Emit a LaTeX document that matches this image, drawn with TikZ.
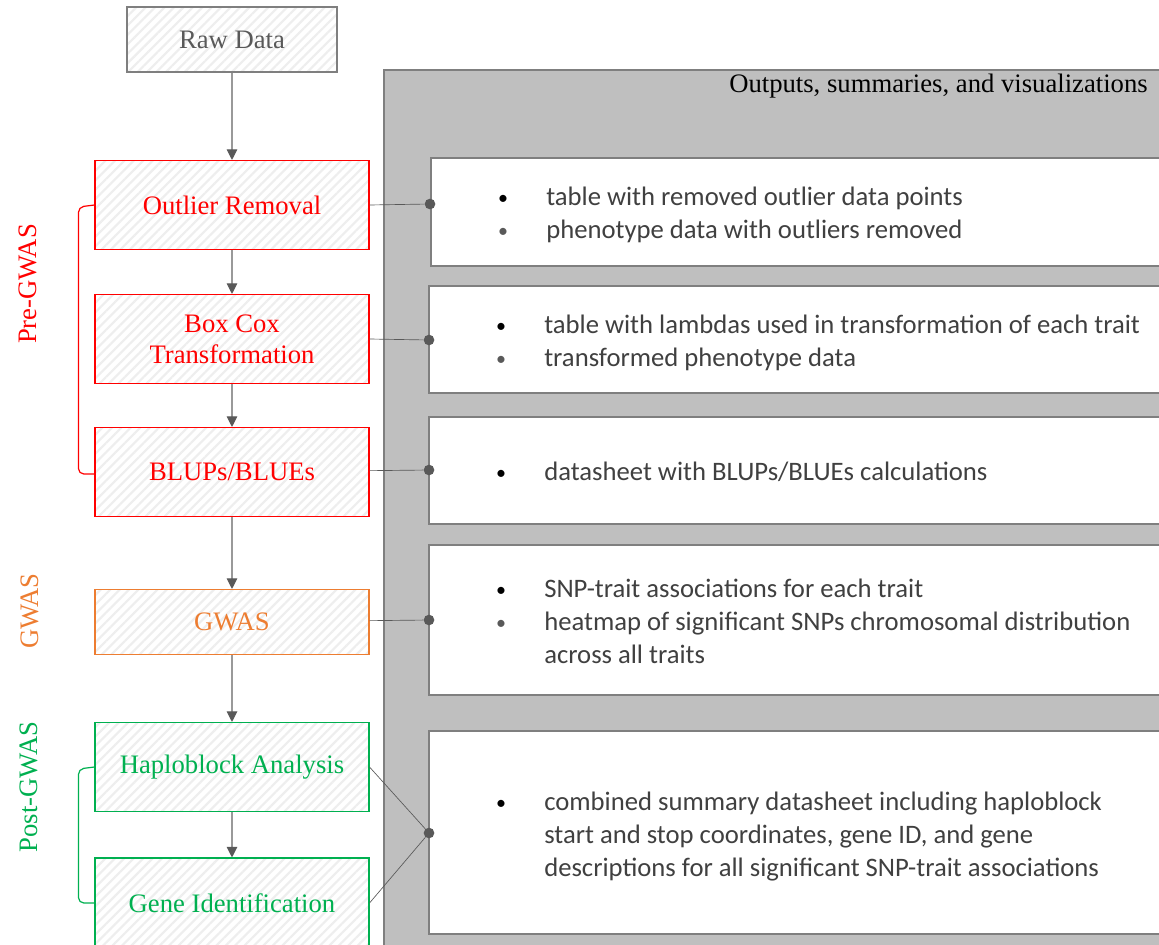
\documentclass[tikz,border=0pt]{standalone}
\usepackage{fontspec}
\setmainfont{Liberation Serif}
\newfontfamily\bodyfont{Carlito}
\usetikzlibrary{arrows.meta,patterns.meta}
\definecolor{stepred}{HTML}{FF0000}
\definecolor{steporange}{HTML}{ED7D31}
\definecolor{stepgreen}{HTML}{00B050}
\definecolor{panelgray}{HTML}{BFBFBF}
\definecolor{edgegray}{HTML}{7F7F7F}
\definecolor{inkgray}{HTML}{595959}
\definecolor{bodyink}{HTML}{404040}
\definecolor{hatchgray}{HTML}{EEEEEE}
\tikzset{
  hatched/.style={preaction={draw=none, fill=white},
    preaction={draw=none, pattern={Lines[angle=45,distance=5pt,line width=1.6pt]}, pattern color=hatchgray}},
  stepbox/.style={hatched, draw, line width=0.8pt, minimum width=205.5pt,
    minimum height=66.75pt, align=center, font=\fontsize{20}{23}\selectfont, inner sep=0pt},
  outbox/.style={draw=edgegray, fill=white, line width=0.9pt},
  flow/.style={draw=edgegray!80, line width=0.8pt, -{Triangle[length=8pt,width=8pt,fill=inkgray,color=inkgray]}},
  link/.style={draw=inkgray, line width=0.5pt},
  linkdot/.style={circle, fill=inkgray, inner sep=0pt, minimum size=8pt},
  bullet/.style={anchor=base, font=\bodyfont\fontsize{15}{24}\selectfont, text=black, inner sep=0pt},
  item/.style={anchor=base west, font=\bodyfont\fontsize{20}{24}\selectfont, text=bodyink, inner sep=0pt},
  phase/.style={rotate=90, font=\fontsize{20}{23}\selectfont, inner sep=0pt},
  brace/.style={line width=0.9pt, rounded corners=4pt}
}
\begin{document}
\begin{tikzpicture}[x=0.75pt,y=-0.75pt]
\useasboundingbox (0,0) rectangle (1159,945);

% outputs panel
\draw[draw=edgegray, fill=panelgray, line width=0.9pt] (384,70) rectangle (1170,960);
\node[anchor=east, font=\fontsize{20}{23}\selectfont, inner sep=0pt] (title) at (1148,86) {Outputs, summaries, and visualizations};

\draw[outbox] (431,158) rectangle (1170,266);
\draw[outbox] (429,286) rectangle (1170,393);
\draw[outbox] (429,417) rectangle (1170,524);
\draw[outbox] (429,545) rectangle (1170,695);
\draw[outbox] (429,731) rectangle (1170,934);

% pipeline steps
\node[stepbox, draw=edgegray, text=inkgray, minimum width=157.5pt, minimum height=48.75pt] (raw) at (232,39.5) {Raw Data};
\node[stepbox, draw=stepred, text=stepred] (outl) at (232,205) {Outlier Removal};
\node[stepbox, draw=stepred, text=stepred] (boxcox) at (232,339) {Box Cox\\Transformation};
\node[stepbox, draw=stepred, text=stepred] (blup) at (232,472) {BLUPs/BLUEs};
\node[stepbox, draw=steporange, text=steporange, minimum height=48.75pt] (gwas) at (232,622) {GWAS};
\node[stepbox, draw=stepgreen, text=stepgreen] (haplo) at (232,767) {Haploblock Analysis};
\node[stepbox, draw=stepgreen, text=stepgreen, minimum height=67.5pt] (gene) at (232,903) {Gene Identification};

\draw[flow] (raw) -- (outl);
\draw[flow] (outl) -- (boxcox);
\draw[flow] (boxcox) -- (blup);
\draw[flow] (blup) -- (gwas);
\draw[flow] (gwas) -- (haplo);
\draw[flow] (haplo) -- (gene);

% phase labels and brackets
\node[phase, text=stepred] (pre) at (28,284) {Pre-GWAS};
\node[phase, text=steporange] (gw) at (30,611) {GWAS};
\node[phase, text=stepgreen] (post) at (29,787) {Post-GWAS};
\draw[brace, stepred] (outl.west) -- ++(-16,2) |- ([yshift=-1.5pt]blup.west);
\draw[brace, stepgreen] (haplo.west) -- ++(-16,2) |- (gene.west);

% connection dots
\node[linkdot] (d1) at (430,204) {};
\node[linkdot] (d2) at (429,340) {};
\node[linkdot] (d3) at (429,470) {};
\node[linkdot] (d4) at (429,620) {};
\node[linkdot] (d5) at (429,833) {};
\draw[link] (outl.east) -- (d1);
\draw[link] (boxcox.east) -- (d2);
\draw[link] ([yshift=1pt]blup.east) -- (d3);
\draw[link] ([yshift=1pt]gwas.east) -- (d4);
\draw[link] (haplo.east) -- (d5);
\draw[link] (gene.east) -- (d5);

% output descriptions
\node[bullet] (b11) at (503,204) {•};
\node[item] (t11) at (546,205) {table with removed outlier data points};
\node[bullet, text=inkgray] (b12) at (503,237) {•};
\node[item] (t12) at (546,238) {phenotype data with outliers removed};

\node[bullet] (b21) at (501,332) {•};
\node[item] (t21) at (544,333) {table with lambdas used in transformation of each trait};
\node[bullet, text=inkgray] (b22) at (501,365) {•};
\node[item] (t22) at (544,366) {transformed phenotype data};

\node[bullet] (b31) at (501,479) {•};
\node[item] (t31) at (544,480) {datasheet with BLUPs/BLUEs calculations};

\node[bullet] (b41) at (501,596) {•};
\node[item] (t41) at (544,597) {SNP-trait associations for each trait};
\node[bullet, text=inkgray] (b42) at (501,629) {•};
\node[item] (t42) at (544,630) {heatmap of significant SNPs chromosomal distribution};
\node[item] (t43) at (544,663) {across all traits};

\node[bullet] (b51) at (501,809) {•};
\node[item] (t51) at (544,810) {combined summary datasheet including haploblock};
\node[item] (t52) at (544,843) {start and stop coordinates, gene ID, and gene};
\node[item] (t53) at (544,876) {descriptions for all significant SNP-trait associations};
\end{tikzpicture}
\end{document}
